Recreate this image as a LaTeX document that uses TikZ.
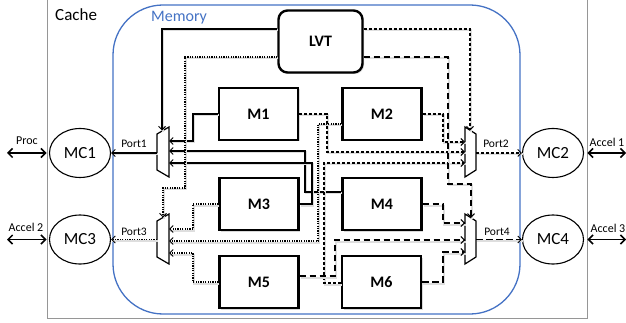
\documentclass[tikz,border=0pt]{standalone}
\usepackage{fontspec}
\setmainfont{Carlito}
\usetikzlibrary{arrows.meta,shadows,calc,shapes.geometric}
\definecolor{memblue}{RGB}{68,114,196}
\definecolor{cachegray}{RGB}{150,150,150}
\tikzset{
  bank/.style={draw, line width=2.4pt, minimum width=79pt, minimum height=52pt, inner sep=0pt, fill=white,
    font=\bfseries\fontsize{16}{18}\selectfont,
    drop shadow={shadow xshift=1.5pt, shadow yshift=-1.5pt, opacity=0.3}},
  lvtbox/.style={bank, minimum width=84pt, minimum height=62pt, rounded corners=9pt},
  mcnode/.style={draw, ellipse, line width=1.1pt, minimum width=61pt, minimum height=49pt, inner sep=0pt,
    font=\fontsize{17}{19}\selectfont},
  muxshape/.style={draw, line width=1.2pt, fill=white},
  lshadow/.style={preaction={draw=black!13, solid, line width=2pt, -, transform canvas={shift={(1pt,-1.5pt)}}}},
  conn/.style={line width=1.25pt, lshadow},
  tip/.style={-{Straight Barb[length=3.5pt,width=7pt,line width=1pt]}},
  p1/.style={conn},
  p2/.style={conn, dash pattern=on 3pt off 2pt},
  p3/.style={conn, dash pattern=on 1.2pt off 1.2pt},
  p4/.style={conn, dash pattern=on 6.5pt off 3.5pt},
  ext/.style={line width=1.5pt, {Straight Barb[length=4.5pt,width=9pt]}-{Straight Barb[length=4.5pt,width=9pt]}},
  small/.style={font=\fontsize{11.5}{13}\selectfont, inner sep=0pt, anchor=base},
}
\begin{document}
\begin{tikzpicture}[x=1pt,y=-1pt]
\useasboundingbox (0,0) rectangle (626,323);
% containers
\node[draw=cachegray, line width=0.9pt, minimum width=540pt, minimum height=330pt, inner sep=0pt] (cache) at (317,153) {};
\node[anchor=base west, inner sep=0pt, font=\fontsize{17}{19}\selectfont] (cachelbl) at (55,21) {Cache};
\node[draw=memblue, line width=1.3pt, rounded corners=50pt, minimum width=407pt, minimum height=309pt, inner sep=0pt] (mem) at (316.5,159.5) {};
\node[anchor=base west, inner sep=0pt, text=memblue, font=\fontsize{16}{18}\selectfont] (memlbl) at (151,22) {Memory};

% banks
\node[lvtbox] (LVT) at (320.5,41.5) {LVT};
\node[bank] (M1) at (258.5,114) {M1};
\node[bank] (M2) at (382,114) {M2};
\node[bank] (M3) at (259,204) {M3};
\node[bank] (M4) at (382,204) {M4};
\node[bank] (M5) at (259,282) {M5};
\node[bank] (M6) at (381.5,282) {M6};

% controllers
\node[mcnode] (MC1) at (80,153) {MC1};
\node[mcnode] (MC3) at (80,239.5) {MC3};
\node[mcnode] (MC2) at (553,153) {MC2};
\node[mcnode] (MC4) at (553,239.5) {MC4};

% muxes
\draw[muxshape] (169,127) -- (169,177) -- (157,170) -- (157,134) -- cycle;
\draw[muxshape] (169,214) -- (169,264) -- (157,257) -- (157,221) -- cycle;
\draw[muxshape] (465,127) -- (465,177) -- (476,170) -- (476,134) -- cycle;
\draw[muxshape] (465,214) -- (465,264) -- (476,257) -- (476,221) -- cycle;
\coordinate (X1out) at (157,153);
\coordinate (X3out) at (157,239.5);
\coordinate (X2out) at (476,153);
\coordinate (X4out) at (476,239.5);

% Port1 group (solid)
\draw[p1,tip] (LVT.west |- 0,29) -| (162,130.5);
\draw[p1,tip] (M1.west) -| (193,141) -- (169,141);
\draw[p1,tip] ([yshift=12pt]M4.west) -| (305,151) -- (169,151);
\draw[p1,tip] (M3.east) -| (312,163) -- (169,163);
\draw[p1,tip] (X1out) -- (MC1.east);

% Port2 group (short dashes)
\draw[p2,tip] (LVT.east |- 0,29) -| (470,130.5);
\draw[p2,tip] (M2.east) -| (443,142) -- (465,142);
\draw[p2,tip] (M1.east) -| (327,152) -- (465,152);
\draw[p2,tip] ([yshift=-1pt]M6.west) -| (324,163) -- (465,163);
\draw[p2,tip] (X2out) -- (MC2.west);

% Port3 group (dotted)
\draw[p3,tip] (LVT.west |- 0,57) -| (185,188) -| (163,217.5);
\draw[p3,tip] (M3.west) -| (193,229) -- (169,229);
\draw[p3,tip] ([yshift=-10pt]M2.west) -| (318,241) -- (169,241);
\draw[p3,tip] (M5.west) -| (193,253) -- (169,253);
\draw[p3,tip] (X3out) -- (MC3.east);

% Port4 group (long dashes)
\draw[p4,tip] (LVT.east |- 0,57) -| (448,184) -| (471,217.8);
\draw[p4,tip] (M4.east) -| (443,223) -- (465,223);
\draw[p4,tip] ([yshift=6pt]M5.east) -| (335,240) -- (465,240);
\draw[p4,tip] (M6.east) -| (443,252) -- (465,252);
\draw[p4,tip] (X4out) -- (MC4.west);

% port labels
\node[small] (pl1) at (134,148) {Port1};
\node[small] (pl3) at (134,235) {Port3};
\node[small] (pl2) at (496,148) {Port2};
\node[small] (pl4) at (497,235) {Port4};

% external links
\coordinate (procEnd) at (7,153);
\coordinate (acc2End) at (7,239.5);
\coordinate (acc1End) at (626,153);
\coordinate (acc3End) at (626,239.5);
\draw[ext] (procEnd) -- (cache.west |- MC1);
\draw[ext] (acc2End) -- (cache.west |- MC3);
\draw[ext] (cache.east |- MC2) -- (acc1End);
\draw[ext] (cache.east |- MC4) -- (acc3End);
\node[small, font=\fontsize{12}{14}\selectfont] (proclbl) at (27,145) {Proc};
\node[small, font=\fontsize{12}{14}\selectfont] (acc2lbl) at (26,231) {Accel 2};
\node[small, font=\fontsize{12}{14}\selectfont] (acc1lbl) at (607,147) {Accel 1};
\node[small, font=\fontsize{12}{14}\selectfont] (acc3lbl) at (608,232) {Accel 3};
\end{tikzpicture}
\end{document}
